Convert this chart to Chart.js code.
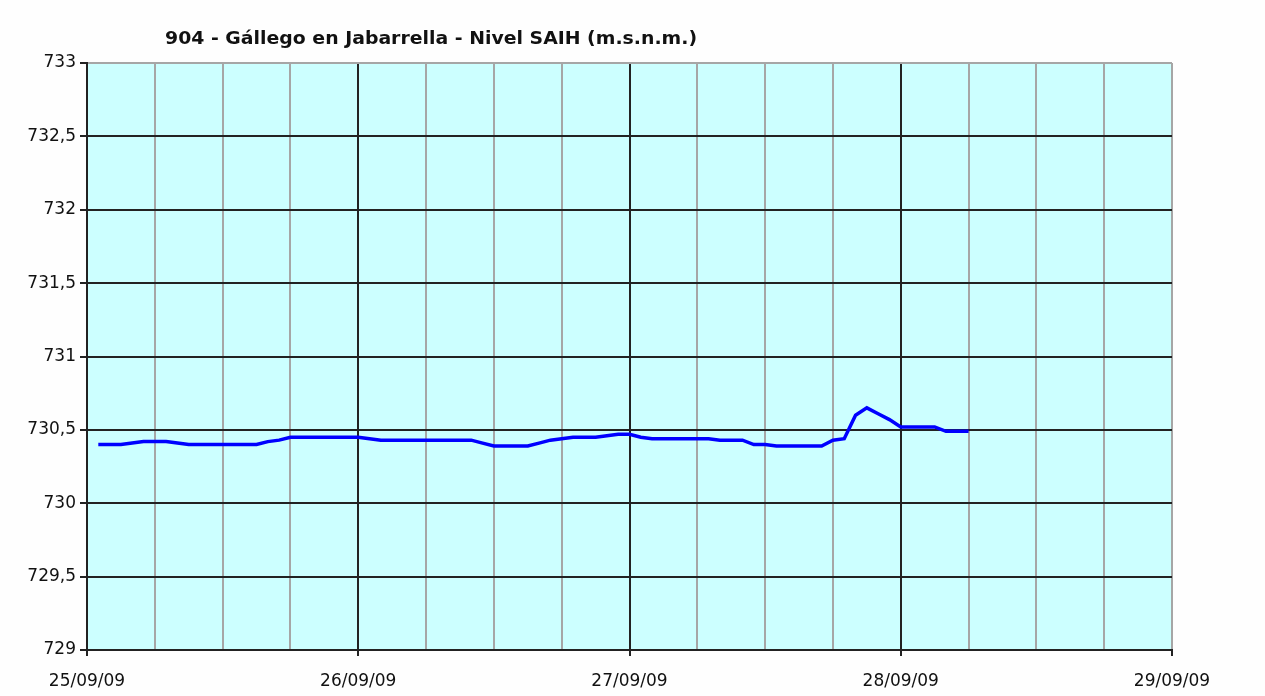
<!DOCTYPE html>
<html>
<head>
<meta charset="utf-8">
<title>904 - Gállego en Jabarrella</title>
<script src="https://cdn.jsdelivr.net/npm/chart.js@4.4.0/dist/chart.umd.min.js"></script>
<style>
    html, body { margin: 0; padding: 0; background: #fefefe; }
    canvas { display: block; }
</style>
</head>
<body>
<canvas id="nivelChart" width="1265" height="696"></canvas>
<script>
// Chart data (hours counted from 25/09/09 00:00)
const chartTitle = "904 - Gállego en Jabarrella - Nivel SAIH (m.s.n.m.)";
const dayLabels = ["25/09/09", "26/09/09", "27/09/09", "28/09/09", "29/09/09"];
const hours = [
    1, 2, 3, 4, 5, 6, 7, 8, 9, 10, 11, 12, 13, 14, 15, 16, 17, 18, 19, 20,
    21, 22, 23, 24, 25, 26, 27, 28, 29, 30, 31, 32, 33, 34, 35, 36, 37, 38, 39, 40,
    41, 42, 43, 44, 45, 46, 47, 48, 49, 50, 51, 52, 53, 54, 55, 56, 57, 58, 59, 60,
    61, 62, 63, 64, 65, 66, 67, 68, 69, 70, 71, 72, 73, 74, 75, 76, 77, 78
];
const levels = [
    730.40, 730.40, 730.40, 730.41, 730.42, 730.42, 730.42, 730.41, 730.40, 730.40,
    730.40, 730.40, 730.40, 730.40, 730.40, 730.42, 730.43, 730.45, 730.45, 730.45,
    730.45, 730.45, 730.45, 730.45, 730.44, 730.43, 730.43, 730.43, 730.43, 730.43,
    730.43, 730.43, 730.43, 730.43, 730.41, 730.39, 730.39, 730.39, 730.39, 730.41,
    730.43, 730.44, 730.45, 730.45, 730.45, 730.46, 730.47, 730.47, 730.45, 730.44,
    730.44, 730.44, 730.44, 730.44, 730.44, 730.43, 730.43, 730.43, 730.40, 730.40,
    730.39, 730.39, 730.39, 730.39, 730.39, 730.43, 730.44, 730.60, 730.65, 730.61,
    730.57, 730.52, 730.52, 730.52, 730.52, 730.49, 730.49, 730.49
];

// Plot background + title drawn by a small plugin
const backgroundPlugin = {
    id: "background",
    beforeDraw(chart) {
        const { ctx, chartArea } = chart;
        ctx.save();
        ctx.fillStyle = "#fefefe";
        ctx.fillRect(0, 0, chart.width, chart.height);
        ctx.fillStyle = "#ccffff";
        ctx.fillRect(chartArea.left, chartArea.top, chartArea.right - chartArea.left, chartArea.bottom - chartArea.top);
        ctx.restore();
    },
    afterDraw(chart) {
        const ctx = chart.ctx;
        ctx.save();
        ctx.fillStyle = "#111";
        ctx.font = "bold 18px 'DejaVu Sans'";
        ctx.textBaseline = "middle";
        // stretch/squeeze the text so it covers the same width as the original title
        const w = ctx.measureText(chartTitle).width;
        ctx.translate(165, 39);
        ctx.scale(532 / w, 1);
        ctx.fillText(chartTitle, 0, 0);
        ctx.restore();
    }
};

const ctx = document.getElementById("nivelChart").getContext("2d");
new Chart(ctx, {
    type: "line",
    data: {
        datasets: [{
            data: hours.map((h, i) => ({ x: h, y: levels[i] })),
            borderColor: "#0000ff",
            borderWidth: 3.5,
            pointRadius: 0,
            tension: 0,
            fill: false
        }]
    },
    options: {
        responsive: false,
        animation: false,
        layout: { padding: { top: 63, right: 93, left: 0, bottom: 0 } },
        plugins: {
            legend: { display: false },
            tooltip: { enabled: false }
        },
        scales: {
            x: {
                type: "linear",
                min: 0,
                max: 96,
                afterFit: (scale) => { scale.height = 46; },
                afterBuildTicks: (scale) => {
                    const t = [];
                    for (let v = 0; v <= 96; v += 6) t.push({ value: v });
                    scale.ticks = t;
                },
                ticks: {
                    autoSkip: false,
                    maxRotation: 0,
                    color: "#111",
                    font: { family: "'DejaVu Sans'", size: 17 },
                    padding: 15,
                    callback: (v) => (v % 24 === 0 ? dayLabels[v / 24] : "")
                },
                grid: {
                    color: (c) => (c.tick && c.tick.value % 24 === 0 && c.tick.value !== 96 ? "#222" : "#a6a6a6"),
                    tickColor: (c) => (c.tick && c.tick.value % 24 === 0 ? "#222" : "rgba(0,0,0,0)"),
                    tickLength: 6,
                    lineWidth: 2
                },
                border: { color: "#222", width: 2 }
            },
            y: {
                min: 729,
                max: 733,
                afterFit: (scale) => { scale.width = 87; },
                ticks: {
                    stepSize: 0.5,
                    color: "#111",
                    font: { family: "'DejaVu Sans'", size: 17 },
                    padding: 4,
                    callback: (v) => String(v).replace(".", ",")
                },
                grid: {
                    color: (c) => (c.tick && c.tick.value === 733 ? "#a6a6a6" : "#222"),
                    tickColor: "#222",
                    tickLength: 7,
                    lineWidth: 2
                },
                border: { color: "#222", width: 2 }
            }
        }
    },
    plugins: [backgroundPlugin]
});
</script>
</body>
</html>
